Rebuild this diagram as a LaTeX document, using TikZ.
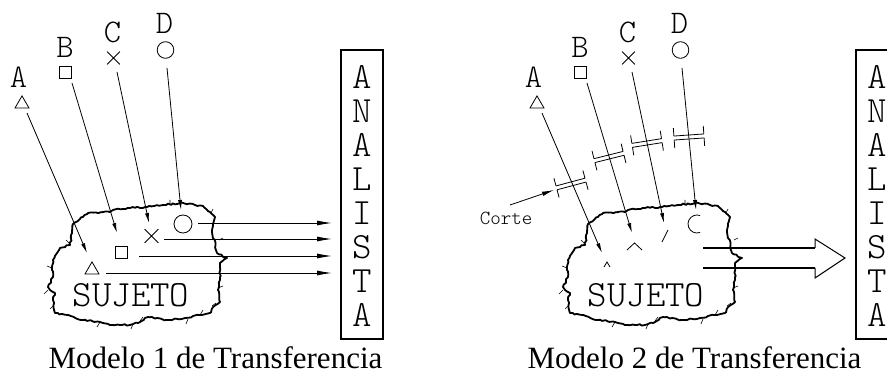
\documentclass[tikz,border=0pt]{standalone}
\usepackage{fontspec}
\newfontfamily\capfont{Liberation Serif}
\newfontfamily\cadfont{lmmonolt10-regular.otf}
\usetikzlibrary{arrows.meta,shapes.geometric,shapes.misc,decorations.pathmorphing}
\tikzset{
  cad/.style={inner sep=0pt, font=\cadfont\fontsize{33}{33}\selectfont},
  cadbig/.style={inner sep=0pt, font=\cadfont\fontsize{37}{37}\selectfont},
  cadsmall/.style={inner sep=0pt, font=\cadfont\fontsize{20}{20}\selectfont},
  sym/.style={draw, line width=0.8pt, inner sep=0pt},
  thinline/.style={line width=0.8pt},
  feed/.style={line width=0.8pt, -{Latex[length=10pt,width=4pt]}},
  flow/.style={line width=0.9pt, -{Latex[length=15pt,width=5pt]}},
  cloudline/.style={line width=1.8pt, line join=round, decorate,
    decoration={random steps, segment length=2.5pt, amplitude=0.8pt}},
  tickline/.style={line width=0.6pt},
  boxline/.style={draw, line width=2.2pt, minimum width=42pt, minimum height=289pt, inner sep=0pt},
  caption/.style={inner sep=0pt, anchor=base, font=\capfont\fontsize{31}{31}\selectfont},
  cutmark/.pic={
    \draw[thinline] (-15,-2) -- (15,-2) (-15,-10) -- (-15,-2) (15,-10) -- (15,-2);
    \draw[thinline] (-15,2) -- (15,2) (-15,10) -- (-15,2) (15,10) -- (15,2);
  }
}
\newcommand\mycloudticks{%
  \draw[tickline] (70,244) -- (66,240) (52,268) -- (47,266) (48,290) -- (44,294)
    (54,305) -- (50,309) (100,322) -- (97,327) (133,324) -- (131,329)
    (140,321) -- (143,317) (188,319) -- (186,324) (200,315) -- (203,310)
    (212,306) -- (216,303) (218,288) -- (223,286) (219,240) -- (223,238)
    (211,213) -- (213,209) (170,204) -- (170,200);
}
\newcommand\panelbase[1]{%
  \node[cad] (#1LA) at (18.5,77.5) {A};
  \node[cad] (#1LB) at (65,47) {B};
  \node[cad] (#1LC) at (112.5,32.5) {C};
  \node[cad] (#1LD) at (164.5,23.5) {D};
  \node[sym, regular polygon, regular polygon sides=3, minimum size=16.2pt] (#1SA) at (22,104) {};
  \node[sym, rectangle, minimum size=12pt] (#1SB) at (65.5,72.5) {};
  \node[sym, cross out, minimum size=12pt] (#1SC) at (113.5,58) {};
  \node[sym, circle, minimum size=16.6pt] (#1SD) at (165.5,50) {};
  \coordinate (#1As) at (27,113); \coordinate (#1Ae) at (87,253);
  \coordinate (#1Bs) at (72,83);  \coordinate (#1Be) at (117,233);
  \coordinate (#1Cs) at (117,72); \coordinate (#1Ce) at (149,223);
  \coordinate (#1Ds) at (167,68); \coordinate (#1De) at (181,210);
  \pgfmathsetseed{7}
  \draw[cloudline] (73,224) -- (83,217) -- (88,213) -- (110,212) -- (113,210) -- (130,208)
    -- (147,207) -- (163,205) -- (180,203) -- (203,206) -- (210,212) -- (215,217)
    -- (212,230) -- (217,253) -- (227,258) -- (220,263) -- (220,277) -- (218,290)
    -- (220,302) -- (213,307) -- (210,313) -- (200,315) -- (185,318) -- (167,320)
    -- (157,318) -- (148,317) -- (140,322) -- (130,325) -- (113,325) -- (100,322)
    -- (83,320) -- (67,315) -- (55,313) -- (53,300) -- (55,293) -- (50,290)
    -- (48,287) -- (53,277) -- (52,270) -- (53,260) -- (60,248) -- (70,245)
    -- (72,233) -- cycle;
  \mycloudticks
  \node[cadbig] (#1Suj) at (131,295) {SUJETO};
  \node[boxline] (#1Box) at (362,194.5) {};
  \foreach \ch [count=\i from 0] in {A,N,A,L,I,S,T,A}
    \node[cadbig] (#1An\i) at (362,77+34*\i) {\ch};
  \draw[feed] (#1As) -- (#1Ae);
  \draw[feed] (#1Bs) -- (#1Be);
  \draw[feed] (#1Cs) -- (#1Ce);
  \draw[feed] (#1Ds) -- (#1De);
}
\begin{document}
\begin{tikzpicture}[x=1pt,y=-1pt]
\useasboundingbox (0,0) rectangle (887,374);
\clip (0,0) rectangle (887,374);
\fill[white] (0,0) rectangle (887,374);
% ---------- left panel ----------
\begin{scope}
  \panelbase{L}
  \node[sym, regular polygon, regular polygon sides=3, minimum size=16.2pt] (LiA) at (92,270) {};
  \node[sym, rectangle, minimum size=12pt] (LiB) at (121,252) {};
  \node[sym, cross out, minimum size=13pt] (LiC) at (151.5,236) {};
  \node[sym, circle, minimum size=18pt] (LiD) at (183,224) {};
  \coordinate (Lh1s) at (198,223); \coordinate (Lh1e) at (332,223);
  \coordinate (Lh2s) at (164,239); \coordinate (Lh2e) at (332,239);
  \coordinate (Lh3s) at (139,256); \coordinate (Lh3e) at (332,256);
  \coordinate (Lh4s) at (106,273); \coordinate (Lh4e) at (332,273);
  \draw[flow] (Lh1s) -- (Lh1e);
  \draw[flow] (Lh2s) -- (Lh2e);
  \draw[flow] (Lh3s) -- (Lh3e);
  \draw[flow] (Lh4s) -- (Lh4e);
\end{scope}
% ---------- right panel ----------
\begin{scope}[shift={(515,0)}]
  \panelbase{R}
  \draw[thinline] (89,267) -- (92,262) -- (95,267);
  \draw[thinline] (112,250) -- (119.5,243) -- (127,250);
  \draw[thinline] (147,242) -- (153,230);
  \draw[thinline] (182,224) ++(70:9) arc[start angle=70, end angle=290, radius=9];
  \coordinate (RcA) at (56,184);
  \coordinate (RcB) at (94,157);
  \coordinate (RcC) at (132,143);
  \coordinate (RcD) at (174,137);
  \pic[rotate=15] at (RcA) {cutmark};
  \pic[rotate=14] at (RcB) {cutmark};
  \pic[rotate=9] at (RcC) {cutmark};
  \pic[rotate=4] at (RcD) {cutmark};
  \node[cadsmall] (Corte) at (-9,218) {Corte};
  \coordinate (CorteFrom) at (-5,205);
  \coordinate (CorteTip) at (39,190);
  \draw[line width=0.8pt, -{Latex[length=12pt,width=4.5pt]}] (CorteFrom) -- (CorteTip);
  \draw[line width=1.5pt] (188,248) -- (300,248);
  \draw[line width=1.5pt] (188,268) -- (300,268);
  \draw[line width=1pt, line join=miter] (300,248) -- (300,239) -- (330,258) -- (300,278) -- (300,268);
\end{scope}
% ---------- captions ----------
\node[caption] (Cap1) at (215.5,369) {Modelo 1 de Transferencia};
\node[caption] (Cap2) at (694.5,369) {Modelo 2 de Transferencia};
\end{tikzpicture}
\end{document}
